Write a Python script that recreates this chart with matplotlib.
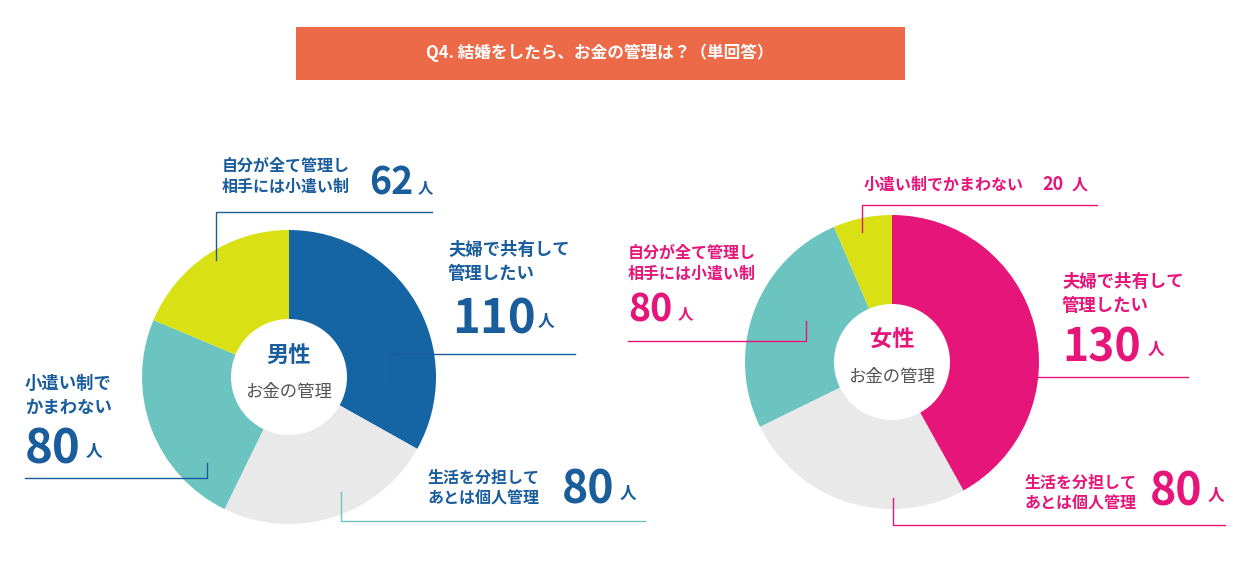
import matplotlib.pyplot as plt

plt.rcParams['font.family'] = 'Noto Sans CJK JP'

# data
title = "Q4. 結婚をしたら、お金の管理は？（単回答）"
male_values = [110, 80, 80, 62]
female_values = [130, 80, 80, 20]
seg_colors = ["#1565a5", "#e9e9e9", "#6cc4c1", "#d9e014"]
female_colors = ["#e5157a", "#e9e9e9", "#6cc4c1", "#d9e014"]
blue = "#1a5d9c"
pink = "#e5157a"
W, H = 1256, 571

fig = plt.figure(figsize=(12.56, 5.71), dpi=100)
ax = fig.add_axes([0, 0, 1, 1])
ax.set_xlim(0, W)
ax.set_ylim(0, H)
ax.set_aspect('equal')
ax.axis('off')

def Y(py):
    return H - py

# title bar
ax.add_patch(plt.Rectangle((296, Y(80)), 609, 53, color="#ec6a48", lw=0))
ax.text(600, Y(53), title, color="white", fontsize=12, fontweight='bold', ha='center', va='center')

def donut(cx, cy, vals, cols, label, tcol):
    ax.pie(vals, colors=cols, startangle=90, counterclock=False, center=(cx, Y(cy)),
           radius=147, wedgeprops=dict(lw=0), frame=True)
    ax.add_patch(plt.Circle((cx, Y(cy)), 58, color="white", lw=0, zorder=3))
    ax.text(cx, Y(cy - 22), label, color=tcol, fontsize=16, fontweight='bold', ha='center', va='center', zorder=4)
    ax.text(cx, Y(cy + 15), "お金の管理", color="#555555", fontsize=12.5, ha='center', va='center', zorder=4)

donut(289, 377, male_values, seg_colors, "男性", blue)
donut(892, 362, female_values, female_colors, "女性", pink)
ax.set_xlim(0, W)
ax.set_ylim(0, H)
ax.axis('off')

def line(pts, col):
    ax.plot([p[0] for p in pts], [Y(p[1]) for p in pts], color=col, lw=1, zorder=5)

teal = "#6cc4c1"
# male leader lines
line([(216, 260), (216, 212), (432, 212)], blue)
line([(391, 383), (391, 354), (575, 354)], blue)
line([(25, 478), (207, 478), (207, 463)], blue)
line([(341, 492), (341, 521), (645, 521)], teal)
# female leader lines
line([(862, 232), (862, 205), (1097, 205)], pink)
line([(1005, 392), (1005, 377), (1188, 377)], pink)
line([(628, 341), (806, 341), (806, 321)], pink)
line([(893, 498), (893, 525), (1225, 525)], pink)

def txt(x, y, s, col, size, ha='left', bold=True):
    ax.text(x, Y(y), s, color=col, fontsize=size, fontweight='bold' if bold else 'normal',
            ha=ha, va='center', linespacing=1.4)

# male labels
txt(350, 176, "自分が全て管理し\n相手には小遣い制", blue, 11.5, ha='right')
txt(369, 183, "62", blue, 27)
txt(418, 187, "人", blue, 11)
txt(448, 262, "夫婦で共有して\n管理したい", blue, 12.5)
txt(452, 320, "110", blue, 34)
txt(538, 322, "人", blue, 12)
txt(25, 396, "小遣い制で\nかまわない", blue, 12.5)
txt(25, 450, "80", blue, 34)
txt(86, 452, "人", blue, 12)
txt(540, 488, "生活を分担して\nあとは個人管理", blue, 11.5, ha='right')
txt(562, 490, "80", blue, 32)
txt(620, 494, "人", blue, 12)
# female labels
txt(864, 185, "小遣い制でかまわない", pink, 11.5)
txt(1042, 185, "20", pink, 13)
txt(1072, 185, "人", pink, 11.5)
txt(628, 263, "自分が全て管理し\n相手には小遣い制", pink, 11.5)
txt(628, 310, "80", pink, 27)
txt(678, 313, "人", pink, 11)
txt(1062, 294, "夫婦で共有して\n管理したい", pink, 12.5)
txt(1062, 348, "130", pink, 32)
txt(1148, 350, "人", pink, 12)
txt(1137, 493, "生活を分担して\nあとは個人管理", pink, 11.5, ha='right')
txt(1150, 493, "80", pink, 32)
txt(1208, 496, "人", pink, 12)

fig.savefig("out.png", dpi=100)
